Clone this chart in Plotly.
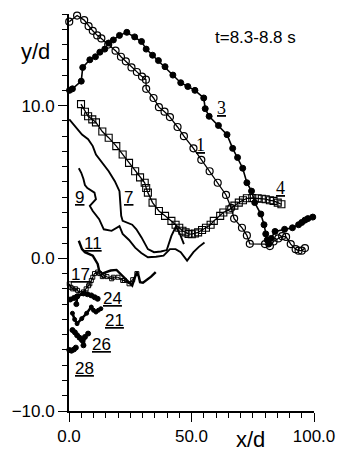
import plotly.graph_objects as go

# Trajectories y/d versus x/d, one list pair per tracked element
s1_x = [0.1, 3.3, 6.2, 8.0, 9.7, 11.5, 13.2, 16.0, 19.0, 21.2, 23.2, 25.5, 27.7, 29.8, 31.4, 31.5,
        34.5, 36.7, 39.0, 41.2, 44.3, 46.9, 50.8, 54.0, 57.4, 60.7, 64.1, 66.2, 67.4, 70.6, 72.6,
        73.8, 80.0, 82.0, 83.5, 85.4, 87.0, 88.6, 90.5, 92.5, 93.7, 95.0, 96.3]
s1_y = [15.5, 15.9, 15.6, 15.2, 14.9, 14.6, 14.4, 14.0, 13.6, 13.2, 12.9, 12.5, 12.2, 11.9, 11.7, 11.1,
        10.5, 9.9, 9.6, 9.25, 8.6, 8.0, 7.2, 6.45, 5.7, 4.95, 4.15, 3.3, 2.6, 2.0, 1.5,
        0.95, 0.93, 0.8, 1.1, 1.3, 1.45, 1.4, 0.93, 0.6, 0.5, 0.5, 0.67]

s3_x = [0.2, 1.4, 5.0, 5.6, 8.5, 10.8, 12.6, 14.6, 16.2, 18.1, 20.6, 23.6, 26.8, 29.6, 31.5, 34.1,
        36.5, 39.2, 42.4, 45.6, 48.5, 51.4, 55.0, 55.6, 57.2, 61.0, 64.5, 66.8, 68.8, 70.9, 72.6,
        74.5, 75.8, 78.3, 79.6, 80.3, 80.9, 81.5, 82.5, 84.1, 88.0, 91.2, 93.7, 95.0, 96.3, 97.5, 99.5]
s3_y = [11.0, 11.1, 11.6, 12.5, 13.0, 13.2, 13.5, 13.7, 14.1, 14.3, 14.6, 14.8, 14.5, 14.2, 13.7, 13.3,
        12.95, 12.55, 12.0, 11.5, 11.25, 11.0, 10.5, 9.8, 9.3, 8.7, 8.1, 7.2, 6.6, 5.9, 4.95,
        4.4, 3.65, 2.9, 2.2, 1.6, 1.2, 0.93, 1.3, 1.76, 1.9, 2.0, 2.2, 2.35, 2.5, 2.6, 2.7]

s4_x = [4.9, 6.5, 7.8, 9.5, 11.0, 13.6, 16.2, 19.3, 21.9, 24.5, 27.0, 29.0, 30.9, 31.5, 32.2, 34.1,
        36.7, 39.2, 41.8, 43.5, 45.0, 46.3, 47.6, 48.8, 50.1, 51.4, 52.7, 54.3, 55.9, 57.8, 59.1,
        61.7, 63.0, 65.5, 67.5, 69.3, 71.0, 72.6, 74.8, 77.0, 78.7, 80.3, 82.0, 83.5, 85.2, 86.7]
s4_y = [10.1, 9.6, 9.3, 9.1, 8.9, 8.3, 7.9, 7.35, 6.8, 6.25, 5.7, 5.3, 4.95, 4.6, 4.3, 3.65,
        3.1, 2.78, 2.45, 2.2, 2.0, 1.8, 1.7, 1.6, 1.58, 1.62, 1.7, 1.85, 2.0, 2.2, 2.45,
        2.78, 3.0, 3.2, 3.45, 3.65, 3.8, 3.93, 3.95, 3.93, 3.9, 3.87, 3.8, 3.76, 3.65, 3.54]

s7_x = [0.1, 2.7, 5.3, 7.8, 9.7, 11.0, 13.6, 16.2, 18.7, 20.6, 21.0, 21.3, 21.9, 24.0, 25.8, 27.5,
        29.6, 32.2, 34.7, 37.5, 39.9, 41.8, 43.7, 45.5, 46.9]
s7_y = [9.1, 8.6, 8.1, 7.8, 7.35, 6.8, 6.25, 5.7, 5.05, 4.4, 3.5, 2.78, 2.45, 2.3, 2.2, 1.9,
        1.37, 0.6, 0.4, 0.45, 0.54, 1.47, 2.1, 1.5, 0.93]

s9_x = [4.0, 5.0, 5.9, 6.5, 7.5, 9.0, 10.4, 11.0, 8.5, 9.7, 11.0, 12.3, 14.2, 17.4, 20.6, 21.9,
        24.5, 27.0, 29.5, 32.2, 35.5, 38.6, 41.2, 43.5, 45.6, 48.2, 50.8, 53.0, 55.3]
s9_y = [5.9, 5.6, 5.2, 4.8, 4.6, 4.45, 4.3, 3.87, 3.43, 3.1, 2.85, 2.56, 1.9, 1.8, 2.1, 1.6,
        1.2, 0.7, 0.35, 0.07, 0.1, 0.17, 0.6, 0.6, 0.4, -0.15, 0.4, 0.75, 1.04]

s11_x = [4.0, 5.3, 6.5, 8.0, 9.7, 11.7, 12.3, 13.5, 14.9, 17.0, 19.4, 21.0, 22.6, 24.0, 25.8,
         26.8, 27.7, 28.5, 29.0, 30.2, 31.5, 33.5, 35.4]
s11_y = [1.15, 0.6, 0.4, 0.3, 0.17, -0.37, -0.8, -1.0, -0.9, -0.8, -0.76, -1.0, -1.24, -1.5, -1.78,
         -1.3, -0.9, -1.2, -1.56, -1.6, -1.45, -1.2, -0.9]

s17_x = [0.1, 0.8, 1.5, 2.7, 3.5, 4.6, 5.9, 7.0, 8.0, 8.5, 9.1, 9.7, 10.4, 11.7, 12.5, 13.6,
         14.2, 15.5, 17.4, 18.1, 20.0, 21.9, 22.6, 24.5, 26.0, 27.7]
s17_y = [-1.67, -1.9, -2.0, -2.0, -2.1, -2.3, -2.2, -2.0, -1.8, -1.67, -1.45, -1.24, -1.0, -0.9,
         -1.0, -1.2, -1.13, -1.2, -1.34, -1.24, -1.24, -1.45, -1.45, -1.67, -1.4, -1.0]

s24_x = [0.5, 2.0, 3.3, 3.0, 3.3, 5.9, 7.5, 9.1, 10.5, 11.7]
s24_y = [-2.7, -2.6, -2.5, -3.0, -2.5, -2.3, -2.35, -2.43, -2.55, -2.65]

s21_x = [1.4, 2.3, 3.3, 5.2, 7.2, 9.1, 10.0, 11.0, 12.0, 13.0]
s21_y = [-3.6, -4.0, -4.28, -3.95, -3.6, -3.19, -3.4, -3.52, -3.4, -3.3]

s26_x = [1.4, 2.4, 3.3, 4.3, 5.3, 5.9, 6.5, 7.8]
s26_y = [-4.7, -4.85, -5.04, -5.2, -5.36, -5.7, -5.15, -4.93]

s28_x = [0.1, 1.0, 2.0, 2.8]
s28_y = [-6.0, -6.05, -5.97, -5.85]

# Series names and where their underlined tags sit
tag_names = ["1", "3", "4", "7", "9", "11", "17", "24", "21", "26", "28"]
tag_x = [53.8, 62.3, 86.2, 24.2, 4.2, 9.6, 4.6, 17.7, 18.5, 13.1, 6.2]
tag_y = [7.4, 9.85, 4.6, 3.95, 4.0, 0.95, -1.05, -2.65, -4.05, -5.65, -7.2]
serif_tags = {"1", "3", "4"}

time_window = "t=8.3-8.8 s"

fig = go.Figure()

def add(xs, ys, mode, width, symbol=None, size=6, mline=1.0):
    kw = dict(x=xs, y=ys, mode=mode, showlegend=False, hoverinfo="skip", cliponaxis=False,
              line=dict(color="black", width=width))
    if symbol is not None:
        kw["marker"] = dict(symbol=symbol, size=size, color="black",
                            line=dict(color="black", width=mline))
    fig.add_trace(go.Scatter(**kw))

add(s1_x, s1_y, "lines+markers", 1.3, "circle-open", 7, 1.2)
add(s3_x, s3_y, "lines+markers", 1.6, "circle", 6)
add(s4_x, s4_y, "lines+markers", 1.3, "square-open", 7, 1.1)
add(s7_x, s7_y, "lines", 1.9)
add(s9_x, s9_y, "lines", 1.9)
add(s11_x, s11_y, "lines", 2.4)
add(s17_x, s17_y, "lines+markers", 1.2, "square-open", 4, 1.0)
add(s24_x, s24_y, "lines+markers", 2.6, "circle", 5)
add(s21_x, s21_y, "lines+markers", 2.6, "circle", 4)
add(s26_x, s26_y, "lines+markers", 2.6, "circle", 5)
add(s28_x, s28_y, "lines+markers", 2.6, "circle", 5)

annotations = []
for name, tx, ty in zip(tag_names, tag_x, tag_y):
    fam = "Liberation Serif" if name in serif_tags else "Liberation Sans"
    annotations.append(dict(x=tx, y=ty, xref="x", yref="y", text=f"<u>{name}</u>",
                            showarrow=False, xanchor="center", yanchor="middle",
                            font=dict(family=fam, size=18 if name in serif_tags else 17,
                                      color="black")))

annotations += [
    dict(x=-0.135, y=0.905, xref="paper", yref="paper", text="y/d", showarrow=False,
         xanchor="center", yanchor="middle",
         font=dict(family="Liberation Sans", size=22, color="black")),
    dict(x=0.742, y=-0.072, xref="paper", yref="paper", text="x/d", showarrow=False,
         xanchor="center", yanchor="middle",
         font=dict(family="Liberation Sans", size=22, color="black")),
    dict(x=0.762, y=0.94, xref="paper", yref="paper", text=time_window, showarrow=False,
         xanchor="center", yanchor="middle",
         font=dict(family="Liberation Sans", size=17, color="black")),
]

axis_common = dict(showgrid=False, zeroline=False, showline=True, linecolor="black",
                   linewidth=1.8, ticks="outside", tickcolor="black", tickwidth=1.4,
                   ticklen=9, tickformat=".1f",
                   tickfont=dict(family="Liberation Sans", size=17, color="black"),
                   mirror=False)

fig.update_layout(
    width=347, height=458,
    margin=dict(l=63, r=24, t=14, b=43),
    paper_bgcolor="white", plot_bgcolor="white",
    xaxis=dict(range=[0, 100], tick0=0, dtick=50,
               minor=dict(dtick=5, ticklen=5, tickcolor="black", tickwidth=1.2, ticks="outside"),
               **axis_common),
    yaxis=dict(range=[-10, 16], tick0=0, dtick=10,
               minor=dict(dtick=1, ticklen=5, tickcolor="black", tickwidth=1.2, ticks="outside"),
               **axis_common),
    annotations=annotations,
)

fig.write_html("out.html")
